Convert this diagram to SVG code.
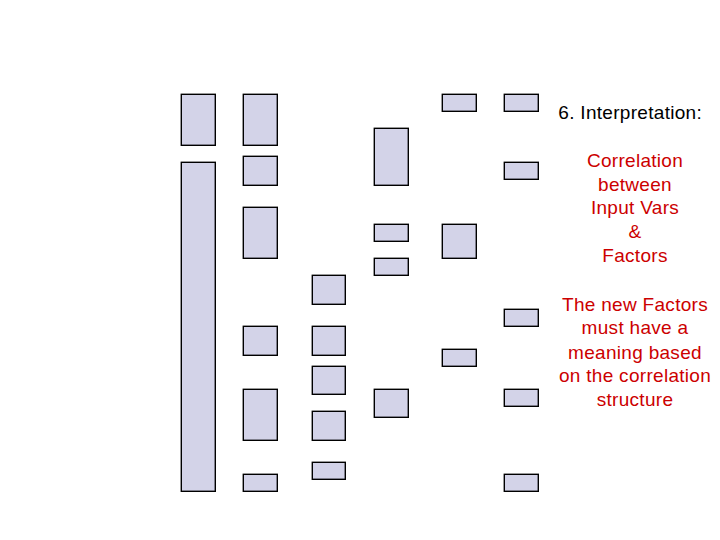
<svg xmlns="http://www.w3.org/2000/svg" width="720" height="540" viewBox="0 0 720 540">
<style>
.b{fill:#d3d3e8;stroke:#000;stroke-width:1.4}
.t{font-family:"Liberation Sans",Arial,sans-serif;font-size:19px;letter-spacing:0.3px}
.r{fill:#cc0000;text-anchor:middle}
</style>
<rect width="720" height="540" fill="#fff"/>
<g id="col1">
<rect id="n1" class="b" x="181.3" y="94.3" width="34" height="51"/>
<rect id="n2" class="b" x="181.3" y="162.3" width="34" height="329"/>
</g>
<g id="col2">
<rect id="n3" class="b" x="243.3" y="94.3" width="34" height="51"/>
<rect id="n4" class="b" x="243.3" y="156.3" width="34" height="29"/>
<rect id="n5" class="b" x="243.3" y="207.3" width="34" height="51"/>
<rect id="n6" class="b" x="243.3" y="326.3" width="34" height="29"/>
<rect id="n7" class="b" x="243.3" y="389.3" width="34" height="51"/>
<rect id="n8" class="b" x="243.3" y="474.3" width="34" height="17"/>
</g>
<g id="col3">
<rect id="n9" class="b" x="312.3" y="275.3" width="33" height="29"/>
<rect id="n10" class="b" x="312.3" y="326.3" width="33" height="29"/>
<rect id="n11" class="b" x="312.3" y="366.3" width="33" height="28"/>
<rect id="n12" class="b" x="312.3" y="411.3" width="33" height="29"/>
<rect id="n13" class="b" x="312.3" y="462.3" width="33" height="17"/>
</g>
<g id="col4">
<rect id="n14" class="b" x="374.3" y="128.3" width="34" height="57"/>
<rect id="n15" class="b" x="374.3" y="224.3" width="34" height="17"/>
<rect id="n16" class="b" x="374.3" y="258.3" width="34" height="17"/>
<rect id="n17" class="b" x="374.3" y="389.3" width="34" height="28"/>
</g>
<g id="col5">
<rect id="n18" class="b" x="442.3" y="94.3" width="34" height="17"/>
<rect id="n19" class="b" x="442.3" y="224.3" width="34" height="34"/>
<rect id="n20" class="b" x="442.3" y="349.3" width="34" height="17"/>
</g>
<g id="col6">
<rect id="n21" class="b" x="504.3" y="94.3" width="34" height="17"/>
<rect id="n22" class="b" x="504.3" y="162.3" width="34" height="17"/>
<rect id="n23" class="b" x="504.3" y="309.3" width="34" height="17"/>
<rect id="n24" class="b" x="504.3" y="389.3" width="34" height="17"/>
<rect id="n25" class="b" x="504.3" y="474.3" width="34" height="17"/>
</g>
<g id="connectors"></g>
<g id="labels">
<text class="t" x="558.3" y="119.3" fill="#000">6. Interpretation:</text>
<text class="t r" x="635" y="167.3">Correlation</text>
<text class="t r" x="635" y="190.7">between</text>
<text class="t r" x="635" y="214.3">Input Vars</text>
<text class="t r" x="635" y="238.3">&amp;</text>
<text class="t r" x="635" y="262.3">Factors</text>
<text class="t r" x="635" y="310.7">The new Factors</text>
<text class="t r" x="635" y="334.3">must have a</text>
<text class="t r" x="635" y="358.7">meaning based</text>
<text class="t r" x="635" y="382.3">on the correlation</text>
<text class="t r" x="635" y="406">structure</text>
</g>
</svg>
